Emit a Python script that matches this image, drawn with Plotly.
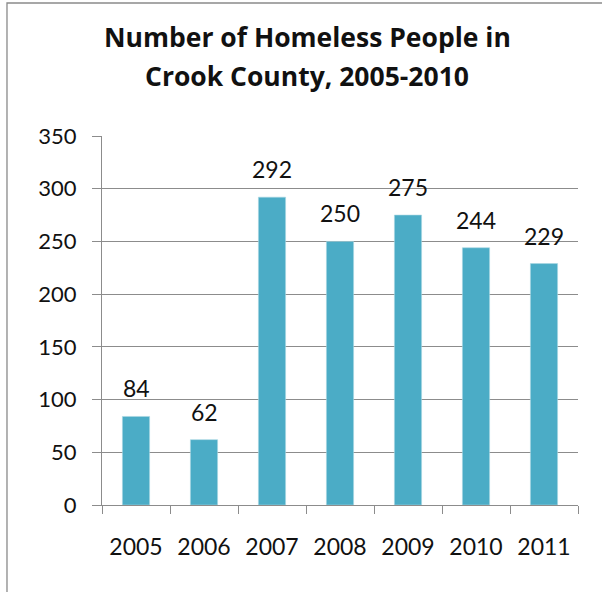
import plotly.graph_objects as go

# Homeless counts per year
years = ["2005", "2006", "2007", "2008", "2009", "2010", "2011"]
homeless = [84, 62, 292, 250, 275, 244, 229]
y_ticks = [0, 50, 100, 150, 200, 250, 300, 350]

title_lines = ["Number of Homeless People in", "Crook County, 2005-2010"]

BAR = "#4BACC6"
GRID = "#8C8C8C"
FONT = "Lato"
TITLE_FONT = "Open Sans"

fig = go.Figure(
    go.Bar(
        x=years,
        y=homeless,
        marker=dict(color=BAR, line=dict(color="#A9D6E3", width=0.6)),
        hoverinfo="x+y",
    )
)

# value labels above each bar (category index keeps year strings from
# being read as numbers)
for i, v in enumerate(homeless):
    fig.add_annotation(
        x=i, y=v, xref="x", yref="y",
        text=str(v), showarrow=False,
        yanchor="bottom", yshift=12,
        font=dict(family=FONT, size=23, color="#111111"),
    )

# two-line chart title
for i, line in enumerate(title_lines):
    fig.add_annotation(
        x=0.431, y=1.0, xref="paper", yref="paper",
        text="<b>" + line + "</b>", showarrow=False,
        xanchor="center", yanchor="middle",
        yshift=99 - 39 * i,
        font=dict(family=TITLE_FONT, size=26.5, color="#111111"),
    )

# outer chart frame
fig.add_shape(
    type="rect", xref="paper", yref="paper",
    x0=-0.1996, x1=1.2, y0=-0.4, y1=1.3604,
    line=dict(color="#8A8A8A", width=1.3),
    fillcolor="rgba(0,0,0,0)", layer="below",
)

fig.update_layout(
    width=602, height=592,
    margin=dict(l=102, r=24, t=136, b=87),
    paper_bgcolor="white",
    plot_bgcolor="white",
    showlegend=False,
    bargap=0.6,
)

fig.update_xaxes(
    type="category",
    range=[-0.5, len(years) - 0.5],
    showline=True, linecolor=GRID, linewidth=1.3,
    ticks="outside", ticklen=8, tickcolor=GRID, tickwidth=1.3,
    tickson="boundaries",
    showgrid=False,
    tickfont=dict(family=FONT, size=23, color="#111111"),
    ticklabelstandoff=21,
)

fig.update_yaxes(
    range=[0, 350],
    tickvals=y_ticks,
    showline=True, linecolor=GRID, linewidth=1.3,
    ticks="outside", ticklen=9, tickcolor=GRID, tickwidth=1.3,
    showgrid=True, gridcolor=GRID, gridwidth=1.3,
    zeroline=False,
    tickfont=dict(family=FONT, size=22, color="#111111"),
    ticklabelstandoff=11,
)

fig.write_html("out.html")
